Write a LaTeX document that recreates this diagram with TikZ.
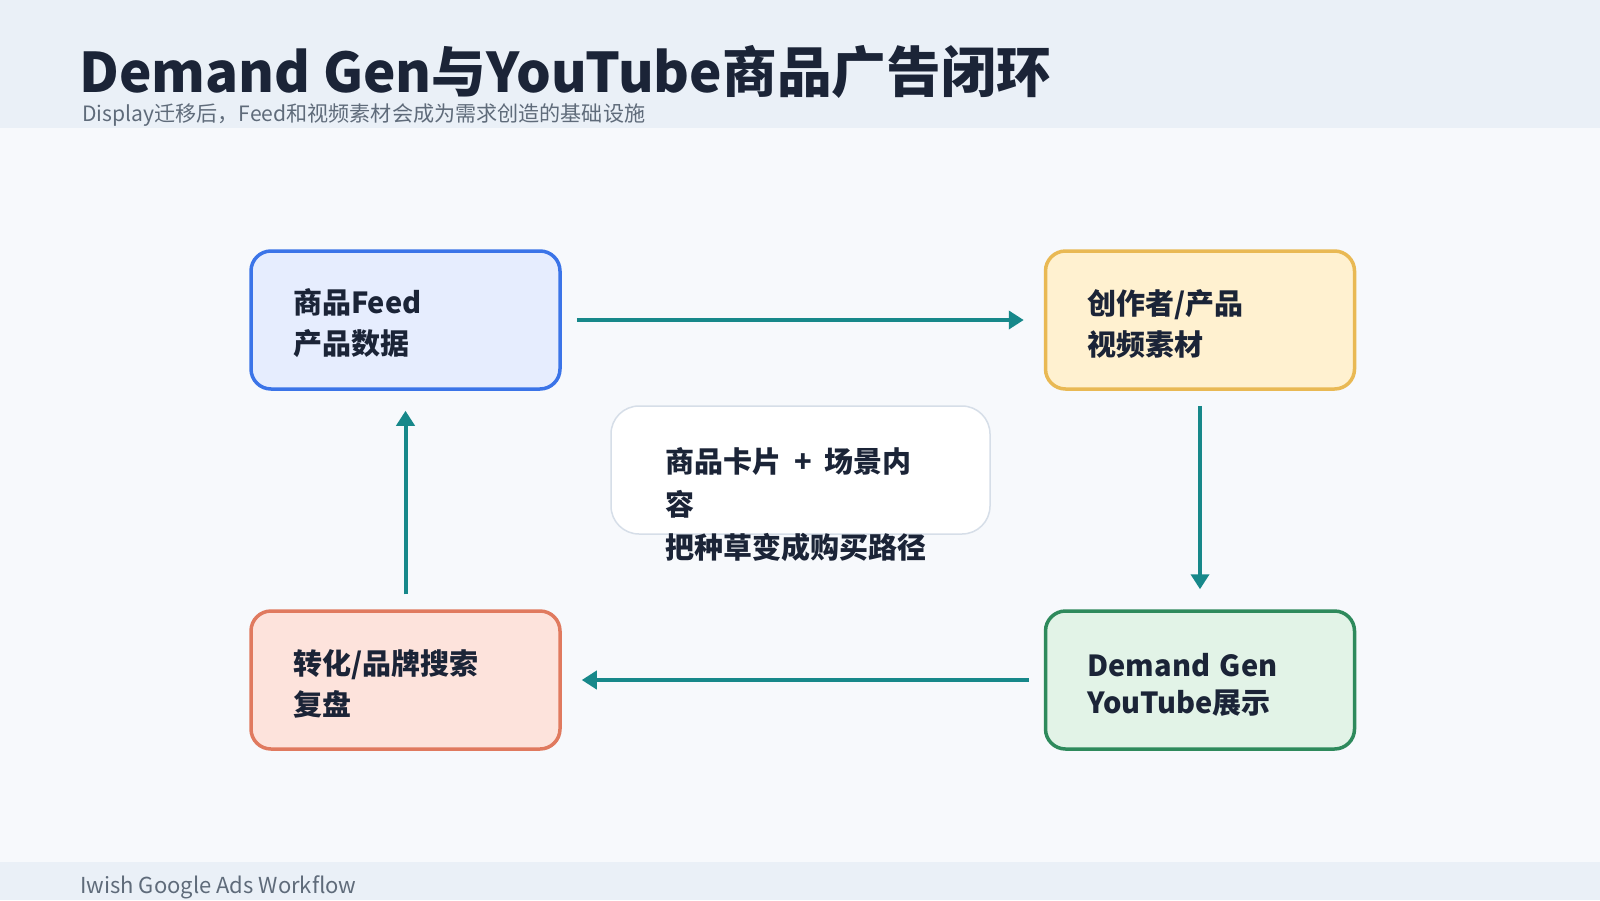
\documentclass[tikz,border=0pt]{standalone}
\usepackage{fontspec}
\setmainfont{Noto Sans CJK SC}
\usepackage{xcolor}
\usetikzlibrary{arrows.meta, positioning, calc}
\definecolor{pagebg}{HTML}{F7F9FC}
\definecolor{bandbg}{HTML}{EAF0F7}
\definecolor{titlecolor}{HTML}{1B2437}
\definecolor{subcolor}{HTML}{5F6B7A}
\definecolor{feedfill}{HTML}{E6EDFE}
\definecolor{feeddraw}{HTML}{3B74E8}
\definecolor{videofill}{HTML}{FFF1D0}
\definecolor{videodraw}{HTML}{E9B954}
\definecolor{showfill}{HTML}{E2F3E7}
\definecolor{showdraw}{HTML}{2E8A5C}
\definecolor{convfill}{HTML}{FDE3DC}
\definecolor{convdraw}{HTML}{E07A5F}
\definecolor{loopcolor}{HTML}{17888A}
\definecolor{notedraw}{HTML}{D6DEE8}
\tikzset{
    stepcard/.style={draw, line width=3.5pt, rounded corners=20pt, minimum width=309pt, minimum height=138pt, inner xsep=42pt, inner ysep=0pt, text width=225pt, align=left, font=\fontsize{29}{41}\selectfont\bfseries, text=titlecolor, execute at begin node={\rule{0pt}{32pt}}},
    notecard/.style={draw=notedraw, line width=1.5pt, rounded corners=28pt, fill=white, minimum width=379pt, minimum height=128pt},
    notetext/.style={inner sep=0pt, align=left, font=\fontsize{29}{43}\selectfont\bfseries, text=titlecolor},
    looparrow/.style={-{Triangle[length=15pt, width=18pt]}, line width=4pt, draw=loopcolor, shorten <=15pt, shorten >=20pt},
    band/.style={fill=bandbg, draw=none},
}

\begin{document}
\begin{tikzpicture}[x=1pt, y=-1pt]
\useasboundingbox (0,0) rectangle (1600,900);

% ============================================================
% BACKGROUND
% ============================================================
\fill[pagebg] (0,0) rectangle (1600,900);
\fill[band] (0,0) rectangle (1600,128);
\fill[band] (0,862) rectangle (1600,900);

\node[anchor=base west, inner sep=0pt, font=\fontsize{54.7}{60}\selectfont\bfseries, text=titlecolor] (title) at (79, 92) {Demand Gen与YouTube商品广告闭环};
\node[anchor=base west, inner sep=0pt, font=\fontsize{21.1}{24}\selectfont, text=subcolor] (subtitle) at (82, 121) {Display迁移后，Feed和视频素材会成为需求创造的基础设施};

% ============================================================
% LOOP
% ============================================================
\node[stepcard, fill=feedfill, draw=feeddraw] (feed) at (405.5, 320) {商品Feed\\产品数据};
\node[stepcard, fill=videofill, draw=videodraw] (video) at (1200, 320) {创作者/产品\\视频素材};
\node[stepcard, fill=showfill, draw=showdraw] (show) at (1200, 680) {Demand Gen\\[-4pt]YouTube展示};
\node[stepcard, fill=convfill, draw=convdraw] (conv) at (405.5, 680) {转化/品牌搜索\\复盘};

\draw[looparrow] (feed.east) -- (video.west);
\draw[looparrow] (video.south) -- (show.north);
\draw[looparrow] (show.west) -- (conv.east);
\draw[looparrow] (conv.north) -- (feed.south);

% Center note (text runs past the card)
\node[notecard] (note) at (800.5, 470) {};
\node[notetext, anchor=north west] (notetxt) at (665, 447) {商品卡片\hspace{0.45em}+\hspace{0.45em}场景内\\容\\把种草变成购买路径};

% ============================================================
% FOOTER
% ============================================================
\node[anchor=base west, inner sep=0pt, font=\fontsize{22}{24}\selectfont, text=subcolor] (footer) at (80, 893) {Iwish Google Ads Workflow};

\end{tikzpicture}
\end{document}
